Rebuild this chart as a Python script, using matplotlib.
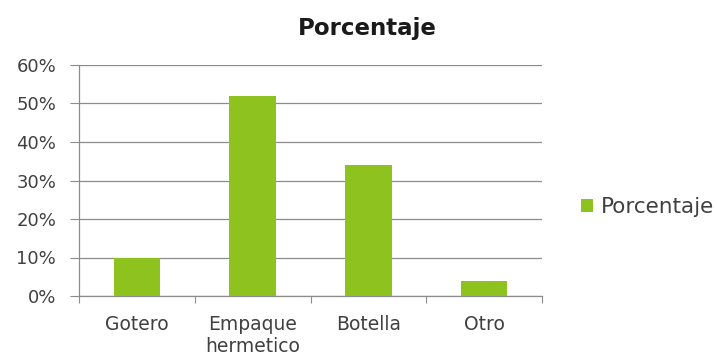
import matplotlib
matplotlib.use("Agg")
import matplotlib.pyplot as plt
from matplotlib.ticker import FuncFormatter, MultipleLocator
from matplotlib.patches import Patch

categories = ["Gotero", "Empaque\nhermetico", "Botella", "Otro"]
values = [0.10, 0.52, 0.34, 0.04]
series_name = "Porcentaje"
bar_color = "#8DC21F"
grid_color = "#8C8C8C"
text_color = "#404040"

plt.rcParams["font.family"] = ["DejaVu Sans"]

fig = plt.figure(figsize=(7.17, 3.62), dpi=100)
ax = fig.add_axes([79 / 717, 1 - 296 / 362, (542 - 79) / 717, (296 - 65) / 362])

x = list(range(len(categories)))
ax.bar(x, values, width=0.4, color=bar_color, zorder=3)

ax.set_xlim(-0.5, len(categories) - 0.5)
ax.set_ylim(0, 0.60)
ax.yaxis.set_major_locator(MultipleLocator(0.10))
ax.yaxis.set_major_formatter(FuncFormatter(lambda v, _: f"{v * 100:.0f}%"))
ax.grid(axis="y", color=grid_color, linewidth=0.9, zorder=0)

# category boundaries carry the x tick marks
ax.set_xticks([i - 0.5 for i in range(len(categories) + 1)], minor=False)
ax.set_xticklabels([])
ax.set_xticks(x, minor=True)
ax.set_xticklabels(categories, minor=True, fontsize=13.5, color=text_color, linespacing=1.15)
ax.tick_params(axis="x", which="minor", length=0, pad=14)
ax.tick_params(axis="x", which="major", length=5, color=grid_color, direction="out")
ax.tick_params(axis="y", length=6.5, color=grid_color, labelsize=13, labelcolor=text_color, pad=10)

for side in ("top", "right"):
    ax.spines[side].set_visible(False)
for side in ("left", "bottom"):
    ax.spines[side].set_color(grid_color)
    ax.spines[side].set_linewidth(0.9)

fig.text(367 / 717, 1 - 28 / 362, series_name, ha="center", va="center",
         fontsize=16.5, fontweight="bold", color="#1a1a1a")

handle = Patch(facecolor=bar_color, edgecolor="none")
fig.legend([handle], [series_name], loc="center left", bbox_to_anchor=(562 / 717, 1 - 207 / 362),
           frameon=False, fontsize=15.5, handlelength=0.55, handleheight=0.55, handletextpad=0.35,
           labelcolor=text_color)

fig.savefig("out.png", dpi=100, facecolor="white")
